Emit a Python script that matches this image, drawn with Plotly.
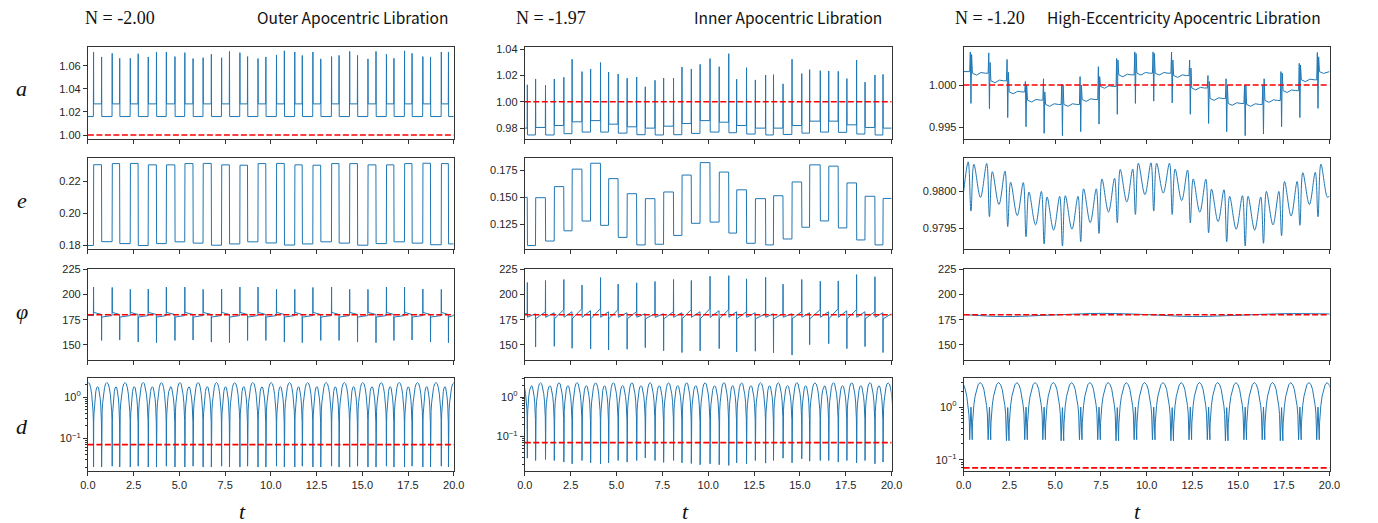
import math
import plotly.graph_objects as go

T_END = 20.0
A_REF = 1.0
PHI_REF = 180.0
D_REF = 0.07

# ---------------- N = -2.00 : outer apocentric libration ----------------
OUT_T_UP = [0.31, 1.33, 2.32, 3.30, 4.29, 5.30, 6.30, 7.31, 8.31, 9.30,
            10.31, 11.31, 12.30, 13.32, 14.31, 15.31, 16.32, 17.31, 18.31, 19.32]
OUT_T_DN = [0.75, 1.74, 2.75, 3.75, 4.76, 5.75, 6.75, 7.74, 8.73, 9.73,
            10.74, 11.72, 12.73, 13.73, 14.74, 15.75, 16.73, 17.72, 18.73, 19.71]
OUT_T_EDGE = (-0.25, 20.31)
OUT_A_HI, OUT_A_LO = 1.027, 1.016
OUT_A_PEAK_UP = [1.0720, 1.0708, 1.0665, 1.0677, 1.0720, 1.0714, 1.0670, 1.0670, 1.0714, 1.0663,
                 1.0694, 1.0720, 1.0720, 1.0680, 1.0725, 1.0660, 1.0700, 1.0730, 1.0680, 1.0720]
OUT_A_PEAK_DN = [1.0677, 1.0665, 1.0705, 1.0720, 1.0680, 1.0663, 1.0700, 1.0725, 1.0680, 1.0677,
                 1.0730, 1.0690, 1.0660, 1.0690, 1.0690, 1.0725, 1.0665, 1.0708, 1.0677, 1.0720]
OUT_E_HI = [0.2303, 0.2310, 0.2311, 0.2302, 0.2302, 0.2310, 0.2311, 0.2302, 0.2300, 0.2310,
            0.2311, 0.2302, 0.2300, 0.2310, 0.2310, 0.2302, 0.2302, 0.2310, 0.2312, 0.2310]
OUT_E_LO = [0.1800, 0.1824, 0.1812, 0.1800, 0.1812, 0.1823, 0.1815, 0.1802, 0.1810, 0.1823, 0.1816,
            0.1803, 0.1810, 0.1823, 0.1815, 0.1802, 0.1812, 0.1823, 0.1815, 0.1805, 0.1810]
OUT_PHI_UP = [207.5, 207.1, 205.2, 205.5, 207.5, 207.5, 205.2, 205.5, 207.5, 207.5,
              205.2, 205.2, 207.1, 207.5, 205.2, 205.2, 207.5, 207.5, 205.5, 205.2]
OUT_PHI_DN = [154.5, 154.9, 152.9, 152.3, 154.5, 154.9, 152.9, 152.3, 154.5, 154.5,
              152.9, 152.3, 154.5, 154.5, 152.9, 152.3, 154.5, 154.9, 152.9, 152.3]
OUT_PHI_START = 179.2
OUT_PHI_AFTER_UP = (182.3, 180.3)
OUT_PHI_AFTER_DN = (177.7, 179.2)
OUT_D_PEAK_LOWE = [2.25, 2.27, 2.26, 2.27, 2.25, 2.27, 2.26, 2.27, 2.25, 2.27, 2.26,
                   2.27, 2.25, 2.27, 2.26, 2.27, 2.25, 2.27, 2.26, 2.27, 2.25]
OUT_D_PEAK_HIGHE = [1.80, 1.78, 1.80, 1.79, 1.80, 1.78, 1.80, 1.79, 1.80, 1.78,
                    1.80, 1.79, 1.80, 1.78, 1.80, 1.79, 1.80, 1.78, 1.80, 1.79]
OUT_D_TR_UP = [0.020, 0.021, 0.020, 0.020, 0.021, 0.020, 0.020, 0.021, 0.020, 0.020,
               0.021, 0.020, 0.020, 0.021, 0.020, 0.020, 0.021, 0.020, 0.020, 0.021]
OUT_D_TR_DN = [0.020, 0.020, 0.021, 0.020, 0.020, 0.021, 0.020, 0.020, 0.021, 0.020,
               0.020, 0.021, 0.020, 0.020, 0.021, 0.020, 0.020, 0.021, 0.020, 0.020]

# ---------------- N = -1.97 : inner apocentric libration ----------------
INN_T_A = [0.14, 1.13, 2.13, 3.12, 4.13, 5.09, 6.10, 7.10, 8.11, 9.08,
           10.10, 11.12, 12.09, 13.13, 14.08, 15.10, 16.11, 17.09, 18.09, 19.09]
INN_T_B = [0.59, 1.61, 2.58, 3.59, 4.57, 5.58, 6.57, 7.57, 8.57, 9.56,
           10.60, 11.55, 12.57, 13.56, 14.57, 15.53, 16.57, 17.56, 18.55, 19.53]
INN_T_EDGE = (-0.41, 20.09)
INN_A_PEAK_A = [1.0129, 1.0126, 1.0186, 1.0229, 1.0298, 1.0211, 1.0188, 1.0163, 1.0180, 1.0249,
                1.0328, 1.0365, 1.0259, 1.0203, 1.0136, 1.0214, 1.0236, 1.0231, 1.0316, 1.0203]
INN_A_PEAK_B = [1.0173, 1.0173, 1.0323, 1.0249, 1.0226, 1.0179, 1.0114, 1.0180, 1.0264, 1.0284,
                1.0266, 1.0171, 1.0166, 1.0206, 1.0323, 1.0244, 1.0234, 1.0176, 1.0149, 1.0208]
INN_A_START = 0.9800
INN_A_LO = [0.9748, 0.9748, 0.9758, 0.9770, 0.9770, 0.9762, 0.9750, 0.9748, 0.9750, 0.9760,
            0.9770, 0.9765, 0.9755, 0.9748, 0.9752, 0.9762, 0.9770, 0.9768, 0.9755, 0.9748]
INN_A_HI = [0.9805, 0.9820, 0.9848, 0.9857, 0.9830, 0.9810, 0.9800, 0.9815, 0.9835, 0.9857,
            0.9845, 0.9820, 0.9800, 0.9800, 0.9820, 0.9853, 0.9853, 0.9825, 0.9805, 0.9800]
INN_E_START = 0.1500
INN_E_LO = [0.1052, 0.1094, 0.1189, 0.1280, 0.1240, 0.1128, 0.1058, 0.1064, 0.1146, 0.1259,
            0.1270, 0.1168, 0.1073, 0.1058, 0.1113, 0.1222, 0.1281, 0.1216, 0.1104, 0.1058]
INN_E_HI = [0.1497, 0.1600, 0.1762, 0.1817, 0.1674, 0.1534, 0.1488, 0.1550, 0.1707, 0.1823,
            0.1735, 0.1570, 0.1488, 0.1515, 0.1643, 0.1802, 0.1790, 0.1634, 0.1510, 0.1490]
INN_PHI_A = [212.0, 214.0, 215.0, 209.4, 216.9, 210.4, 211.7, 213.0, 215.0, 214.0,
             218.2, 218.8, 215.6, 217.2, 210.4, 215.0, 213.3, 213.6, 219.8, 217.8]
INN_PHI_B = [148.0, 148.7, 146.8, 146.1, 145.1, 145.8, 147.4, 144.2, 142.5, 144.2,
             146.4, 143.2, 143.8, 142.2, 140.0, 150.3, 151.3, 146.4, 148.4, 142.5]
INN_PHI_START = 181.0
INN_PHI_A_START = 177.5
INN_PHI_A_END = [181, 182, 183, 184, 183, 182, 181, 181, 182, 183,
                 184, 183, 182, 181, 181, 182, 183, 184, 183, 182]
INN_PHI_B_START = 176.0
INN_PHI_B_END = [183, 185, 186, 186, 185, 183, 181, 183, 185, 186,
                 185, 183, 181, 181, 183, 185, 186, 185, 183, 181]
INN_D_TR_A = [0.0282, 0.0261, 0.0224, 0.0246, 0.0203, 0.0246, 0.0246, 0.0246, 0.0246, 0.0207,
              0.0203, 0.0185, 0.0203, 0.0211, 0.0282, 0.0271, 0.0246, 0.0224, 0.0215, 0.0203]
INN_D_TR_B = [0.0246, 0.0246, 0.0203, 0.0215, 0.0215, 0.0224, 0.0288, 0.0220, 0.0215, 0.0192,
              0.0192, 0.0215, 0.0246, 0.0246, 0.0215, 0.0237, 0.0246, 0.0246, 0.0246, 0.0224]
INN_D_PEAK_AFTER_A = [1.95, 1.94, 1.96, 1.95, 1.94, 1.96, 1.95, 1.94, 1.96, 1.95,
                      1.94, 1.96, 1.95, 1.94, 1.96, 1.95, 1.94, 1.96, 1.95, 1.94]
INN_D_PEAK_AFTER_B = [2.30, 2.32, 2.31, 2.33, 2.30, 2.32, 2.31, 2.33, 2.30, 2.32, 2.31,
                      2.33, 2.30, 2.32, 2.31, 2.33, 2.30, 2.32, 2.31, 2.33, 2.30]

# ---------------- N = -1.20 : high-eccentricity apocentric libration ----------------
HEC_T = [0.40, 1.41, 2.41, 3.41, 4.40, 5.40, 6.40, 7.40, 8.40, 9.39,
         10.39, 11.40, 12.39, 13.39, 14.38, 15.39, 16.39, 17.38, 18.38, 19.37]
HEC_T_EDGE = (-0.61, 20.37)
HEC_A_START = 1.00159
HEC_A_UP = [1.00391, 1.00380, 1.00302, 1.00043, 1.00074, 1.00012, 1.00100, 1.00217, 1.00314, 1.00391,
            1.00391, 1.00390, 1.00295, 1.00112, 1.00074, 1.00000, 1.00000, 1.00159, 1.00256, 1.00384]
HEC_A_DN = [0.99783, 0.99721, 0.99616, 0.99508, 0.99430, 0.99403, 0.99450, 0.99539, 0.99655, 0.99783,
            0.99810, 0.99790, 0.99655, 0.99547, 0.99450, 0.99403, 0.99422, 0.99508, 0.99616, 0.99725]
HEC_A_UP2 = [1.00360, 1.00267, 1.00151, 0.99996, 0.99919, 1.00004, 1.00000, 1.00100, 1.00295, 1.00372,
             1.00372, 1.00295, 1.00200, 1.00043, 1.00000, 0.99996, 1.00074, 1.00140, 1.00236, 1.00333]
HEC_A_LVL = [1.00140, 1.00050, 0.99919, 0.99822, 0.99771, 0.99771, 0.99829, 0.99984, 1.00120, 1.00140,
             1.00140, 1.00112, 0.99965, 0.99841, 0.99783, 0.99771, 0.99818, 0.99934, 1.00062, 1.00159]
# shallow dip and bump seen between two close passages
HEC_A_DIP = -0.00022
HEC_A_BUMP = 0.00008
HEC_E_START, HEC_E_END = 0.98000, 0.97994
HEC_E_P1 = [0.980398, 0.980376, 0.980274, 0.980119, 0.980000, 0.979934, 0.979934, 0.980035, 0.980177, 0.980301,
            0.980385, 0.980380, 0.980288, 0.980164, 0.980022, 0.979942, 0.979925, 0.980000, 0.980133, 0.980257]
HEC_E_DIP = [0.979735, 0.979659, 0.979527, 0.979389, 0.979292, 0.979265, 0.979323, 0.979434, 0.979580, 0.979690,
             0.979735, 0.979690, 0.979575, 0.979442, 0.979323, 0.979265, 0.979301, 0.979403, 0.979544, 0.979659]
HEC_E_P2 = [0.980367, 0.980265, 0.980124, 0.979991, 0.979925, 0.979942, 0.980035, 0.980168, 0.980296, 0.980380,
            0.980380, 0.980301, 0.980168, 0.980031, 0.979934, 0.979934, 0.980000, 0.980133, 0.980252, 0.980367]
HEC_E_TROUGH = [0.979920, 0.979823, 0.979673, 0.979549, 0.979478, 0.979491, 0.979580, 0.979721, 0.979858, 0.979956,
                0.979978, 0.979876, 0.979721, 0.979593, 0.979491, 0.979478, 0.979549, 0.979668, 0.979823, 0.979920]
HEC_PHI_T = [0.0, 2.2, 4.9, 7.6, 10.1, 12.5, 15.0, 17.5, 20.0]
HEC_PHI = [180.2, 178.2, 179.8, 181.4, 180.1, 178.2, 179.5, 181.1, 180.8]
HEC_D_PEAK = [2.90, 2.95, 2.95, 2.93, 2.95, 2.95, 2.93, 2.95, 2.95, 2.93, 2.95,
              2.95, 2.93, 2.95, 2.95, 2.93, 2.95, 2.95, 2.93, 2.95, 2.93]
HEC_D_TROUGH = [0.24, 0.24, 0.23, 0.24, 0.24, 0.23, 0.24, 0.24, 0.23, 0.24,
                0.24, 0.23, 0.24, 0.24, 0.23, 0.24, 0.24, 0.23, 0.24, 0.24]
HEC_D_SPIKE = [1.00, 1.00, 0.98, 1.00, 1.00, 0.98, 1.00, 1.00, 0.98, 1.00,
               1.00, 0.98, 1.00, 1.00, 0.98, 1.00, 1.00, 0.98, 1.00, 1.00]

# arch profiles (fraction of half-width -> fraction of log height)
DEEP_ARCH = ([0.0, 0.005, 0.02, 0.05, 0.10, 0.18, 0.28, 0.38, 0.5],
             [0.0, 0.35, 0.55, 0.66, 0.76, 0.86, 0.94, 0.985, 1.0])
SHALLOW_ARCH = ([0.0, 0.005, 0.02, 0.05, 0.10, 0.18, 0.27, 0.37, 0.5],
                [0.0, 0.15, 0.30, 0.45, 0.60, 0.76, 0.88, 0.96, 1.0])


def interleave(a, b):
    out = []
    for x, y in zip(a, b):
        out += [x, y]
    return out


def spikes_on_steps(times, peaks, levels, start, w=0.01):
    xs, ys, prev = [0.0], [start], start
    for t, pk, lv in zip(times, peaks, levels):
        xs += [t - w, t, t + w]
        ys += [prev, pk, lv]
        prev = lv
    xs.append(T_END)
    ys.append(prev)
    return xs, ys


def steps(times, levels, start, w=0.012):
    xs, ys, prev = [0.0], [start], start
    for t, lv in zip(times, levels):
        xs += [t - w / 2, t + w / 2]
        ys += [prev, lv]
        prev = lv
    xs.append(T_END)
    ys.append(prev)
    return xs, ys


def phi_path(times, spikes, starts, ends, start, w=0.008):
    xs, ys, prev = [0.0], [start], start
    n = len(times)
    for i in range(n):
        t = times[i]
        xs += [t - w, t, t + w]
        ys += [prev, spikes[i], starts[i]]
        t_next = times[i + 1] - w if i + 1 < n else T_END
        xs.append(t_next)
        ys.append(ends[i])
        prev = ends[i]
    return xs, ys


def log_arch(t0, t1, lo0, lo1, peak, profile):
    us, rs = profile
    p = math.log10(peak)
    l0, l1 = math.log10(lo0), math.log10(lo1)
    xs, ys = [], []
    for u, r in zip(us, rs):
        xs.append(t0 + u * (t1 - t0))
        ys.append(10 ** (l0 + (p - l0) * r))
    for u, r in list(zip(us, rs))[-2::-1]:
        xs.append(t1 - u * (t1 - t0))
        ys.append(10 ** (l1 + (p - l1) * r))
    return xs, ys


def arch_chain(times, troughs, peaks, profile):
    xs, ys = [], []
    for i in range(len(times) - 1):
        ax, ay = log_arch(times[i], times[i + 1], troughs[i], troughs[i + 1], peaks[i], profile)
        if i > 0:
            ax, ay = ax[1:], ay[1:]
        xs += ax
        ys += ay
    return xs, ys


# ---- build the twelve series ----
series = {}

# outer
t_out = interleave(OUT_T_UP, OUT_T_DN)
series[(0, 0)] = spikes_on_steps(t_out, interleave(OUT_A_PEAK_UP, OUT_A_PEAK_DN),
                                 interleave([OUT_A_HI] * 20, [OUT_A_LO] * 20), OUT_A_LO)
series[(1, 0)] = steps(t_out, interleave(OUT_E_HI, OUT_E_LO[1:]), OUT_E_LO[0])
series[(2, 0)] = phi_path(t_out, interleave(OUT_PHI_UP, OUT_PHI_DN),
                          interleave([OUT_PHI_AFTER_UP[0]] * 20, [OUT_PHI_AFTER_DN[0]] * 20),
                          interleave([OUT_PHI_AFTER_UP[1]] * 20, [OUT_PHI_AFTER_DN[1]] * 20),
                          OUT_PHI_START)
series[(3, 0)] = arch_chain([OUT_T_EDGE[0]] + t_out + [OUT_T_EDGE[1]],
                            [OUT_D_TR_DN[-1]] + interleave(OUT_D_TR_UP, OUT_D_TR_DN) + [OUT_D_TR_UP[0]],
                            [OUT_D_PEAK_LOWE[0]] + interleave(OUT_D_PEAK_HIGHE, OUT_D_PEAK_LOWE[1:]),
                            DEEP_ARCH)

# inner
t_inn = interleave(INN_T_A, INN_T_B)
series[(0, 1)] = spikes_on_steps(t_inn, interleave(INN_A_PEAK_A, INN_A_PEAK_B),
                                 interleave(INN_A_LO, INN_A_HI), INN_A_START)
series[(1, 1)] = steps(t_inn, interleave(INN_E_LO, INN_E_HI), INN_E_START)
series[(2, 1)] = phi_path(t_inn, interleave(INN_PHI_A, INN_PHI_B),
                          interleave([INN_PHI_A_START] * 20, [INN_PHI_B_START] * 20),
                          interleave(INN_PHI_A_END, INN_PHI_B_END), INN_PHI_START)
series[(3, 1)] = arch_chain([INN_T_EDGE[0]] + t_inn + [INN_T_EDGE[1]],
                            [INN_D_TR_B[-1]] + interleave(INN_D_TR_A, INN_D_TR_B) + [INN_D_TR_A[0]],
                            [INN_D_PEAK_AFTER_B[0]] + interleave(INN_D_PEAK_AFTER_A, INN_D_PEAK_AFTER_B[1:]),
                            DEEP_ARCH)

# high eccentricity
xs, ys, prev = [0.0], [HEC_A_START], HEC_A_START
for k, t in enumerate(HEC_T):
    xs += [t - 0.07, t - 0.035, t, t + 0.035, t + 0.08]
    ys += [prev, HEC_A_UP[k], HEC_A_DN[k], HEC_A_UP2[k], HEC_A_LVL[k]]
    prev = HEC_A_LVL[k]
    if k + 1 < len(HEC_T):
        t_next = HEC_T[k + 1] - 0.07
        xs += [t + 0.3, t + 0.55, t + 0.78, t_next]
        ys += [prev + HEC_A_DIP, prev + HEC_A_BUMP, prev, prev]
    else:
        xs += [t + 0.3, T_END]
        ys += [prev + HEC_A_DIP, prev]
series[(0, 2)] = (xs, ys)

xs, ys = [0.0], [HEC_E_START]
for k, t in enumerate(HEC_T):
    xs += [t - 0.15, t, t + 0.16, t + 0.52]
    ys += [HEC_E_P1[k], HEC_E_DIP[k], HEC_E_P2[k], HEC_E_TROUGH[k]]
xs.append(T_END)
ys.append(HEC_E_END)
series[(1, 2)] = (xs, ys)

series[(2, 2)] = (HEC_PHI_T, HEC_PHI)

hw = 0.07
edges = [HEC_T_EDGE[0]] + HEC_T + [HEC_T_EDGE[1]]
xs, ys = [], []
for i in range(len(edges) - 1):
    lo_l = HEC_D_TROUGH[i - 1] if i > 0 else HEC_D_TROUGH[-1]
    lo_r = HEC_D_TROUGH[i] if i < len(HEC_T) else HEC_D_TROUGH[0]
    ax, ay = log_arch(edges[i] + hw, edges[i + 1] - hw, lo_l, lo_r, HEC_D_PEAK[i], SHALLOW_ARCH)
    xs += ax
    ys += ay
    if i < len(HEC_T):
        xs.append(HEC_T[i])
        ys.append(HEC_D_SPIKE[i])
series[(3, 2)] = (xs, ys)

SMOOTH = {(1, 2), (2, 2)}

# ---- layout ----
W, H = 1378, 523
COL_X = [(81, 452), (524, 896), (969, 1340)]
ROW_Y = [(42, 135), (154, 247), (267, 360), (378, 472)]

Y_RANGES = {
    (0, 0): [0.9966, 1.076], (0, 1): [0.9718, 1.0413], (0, 2): [0.99364, 1.00445],
    (1, 0): [0.1777, 0.2347], (1, 1): [0.1018, 0.1869], (1, 2): [0.979221, 0.980455],
    (2, 0): [134.6, 225.5], (2, 1): [134.6, 225.5], (2, 2): [134.6, 225.5],
    (3, 0): [-1.79, 0.46], (3, 1): [-1.87, 0.48], (3, 2): [-1.21, 0.55],
}
Y_TICKS = {
    (0, 0): ([1.00, 1.02, 1.04, 1.06], ".2f"), (0, 1): ([0.98, 1.00, 1.02, 1.04], ".2f"),
    (0, 2): ([0.995, 1.000], ".3f"),
    (1, 0): ([0.18, 0.20, 0.22], ".2f"), (1, 1): ([0.125, 0.150, 0.175], ".3f"),
    (1, 2): ([0.9795, 0.9800], ".4f"),
}
X_TICKS = [0, 2.5, 5, 7.5, 10, 12.5, 15, 17.5, 20]
REF = {(0, 0): A_REF, (0, 1): A_REF, (0, 2): A_REF,
       (2, 0): PHI_REF, (2, 1): PHI_REF, (2, 2): PHI_REF,
       (3, 0): D_REF, (3, 1): D_REF, (3, 2): D_REF}

BLUE = "#1f77b4"
AX_COLOR = "#333333"
TICK_FONT = dict(family="Liberation Sans, Arial, sans-serif", size=11, color="#262626")

fig = go.Figure()
layout = {}
for r in range(4):
    for c in range(3):
        n = r * 3 + c + 1
        sfx = "" if n == 1 else str(n)
        x0, x1 = COL_X[c]
        y0, y1 = ROW_Y[r]
        layout["xaxis" + sfx] = dict(
            domain=[x0 / W, x1 / W], anchor="y" + sfx, range=[0, T_END],
            tickmode="array", tickvals=X_TICKS, ticktext=[f"{v:.1f}" for v in X_TICKS],
            showticklabels=(r == 3), ticks="outside", ticklen=4, tickwidth=1, tickcolor=AX_COLOR,
            showline=True, linecolor=AX_COLOR, linewidth=1, mirror=True,
            showgrid=False, zeroline=False, tickfont=TICK_FONT,
        )
        yax = dict(
            domain=[1 - y1 / H, 1 - y0 / H], anchor="x" + sfx, range=Y_RANGES[(r, c)],
            ticks="outside", ticklen=4, tickwidth=1, tickcolor=AX_COLOR,
            showline=True, linecolor=AX_COLOR, linewidth=1, mirror=True,
            showgrid=False, zeroline=False, tickfont=TICK_FONT,
        )
        if r == 3:
            yax.update(type="log", tickmode="array", tickvals=[0.1, 1.0],
                       ticktext=["10<sup>\u22121</sup>", "10<sup>0</sup>"],
                       minor=dict(ticks="outside", ticklen=2, tickcolor=AX_COLOR,
                                  tickvals=[0.02, 0.03, 0.04, 0.05, 0.06, 0.07, 0.08, 0.09,
                                            0.2, 0.3, 0.4, 0.5, 0.6, 0.7, 0.8, 0.9, 2.0, 3.0]))
        elif r == 2:
            yax.update(tickmode="array", tickvals=[150, 175, 200, 225],
                       ticktext=["150", "175", "200", "225"])
        else:
            vals, fmt = Y_TICKS[(r, c)]
            yax.update(tickmode="array", tickvals=vals, ticktext=[format(v, fmt) for v in vals])
        layout["yaxis" + sfx] = yax

        sx, sy = series[(r, c)]
        fig.add_trace(go.Scatter(
            x=sx, y=sy, mode="lines", xaxis="x" + sfx, yaxis="y" + sfx,
            line=dict(color=BLUE, width=1,
                      shape="spline" if (r, c) in SMOOTH else "linear", smoothing=1.0),
            showlegend=False, hoverinfo="skip"))
        if (r, c) in REF:
            fig.add_trace(go.Scatter(
                x=[0, T_END], y=[REF[(r, c)]] * 2, mode="lines", xaxis="x" + sfx, yaxis="y" + sfx,
                line=dict(color="red", width=1.6, dash="6px,2.5px"),
                showlegend=False, hoverinfo="skip"))

SERIF = "Liberation Serif, Times New Roman, serif"
SANS_T = "Noto Sans CJK SC, Noto Sans, sans-serif"
ann = []


def txt(text, px, py, xanchor, family, size, italic=False):
    ann.append(dict(text=f"<i>{text}</i>" if italic else text, x=px / W, y=1 - py / H,
                    xref="paper", yref="paper", xanchor=xanchor, yanchor="middle",
                    showarrow=False, font=dict(family=family, size=size, color="#111111")))


for lab, px, name, nx in [("N = -2.00", 76, "Outer Apocentric Libration", 448),
                          ("N = -1.97", 513, "Inner Apocentric Libration", 888),
                          ("N = -1.20", 958, "High-Eccentricity Apocentric Libration", 1333)]:
    txt(lab, px, 12, "left", SERIF, 18)
    txt(name, nx, 11, "right", SANS_T, 15.5)

for lab, py in [("a", 84), ("e", 198), ("\u03c6", 310), ("d", 427)]:
    txt(lab, 14, py, "center", SERIF, 22, italic=True)

for px in (238, 687, 1145):
    txt("t", px, 513, "center", SERIF, 22, italic=True)

fig.update_layout(width=W, height=H, margin=dict(l=0, r=0, t=0, b=0),
                  paper_bgcolor="white", plot_bgcolor="white", annotations=ann, **layout)
fig.write_html("out.html")
